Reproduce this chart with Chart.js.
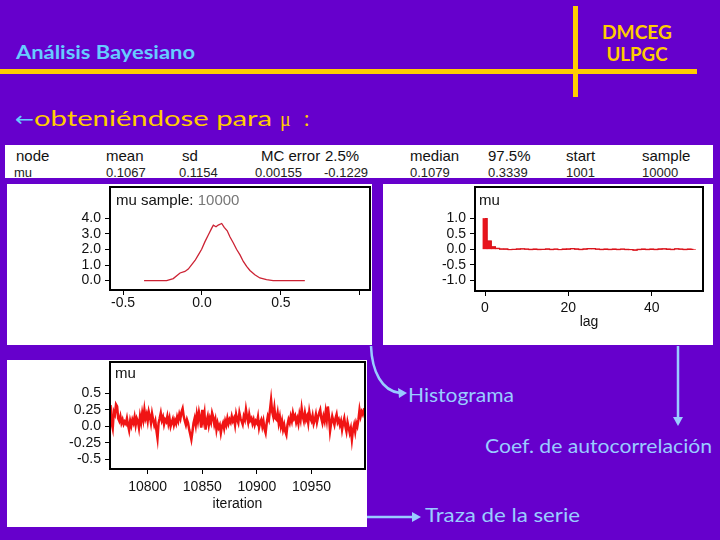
<!DOCTYPE html>
<html><head><meta charset="utf-8">
<script src="https://cdn.jsdelivr.net/npm/chart.js@4.4.1/dist/chart.umd.min.js"></script>
<style>
html,body{margin:0;padding:0;}
body{width:720px;height:540px;background:#6600cc;position:relative;overflow:hidden;}
svg#deco{position:absolute;left:0;top:0;}
canvas{position:absolute;background:#fff;}
</style></head><body>
<svg id="deco" width="720" height="540" xmlns="http://www.w3.org/2000/svg"></svg>
<canvas id="dens" width="365" height="161" style="left:7px;top:184px"></canvas>
<canvas id="acf" width="330" height="161" style="left:383px;top:184px"></canvas>
<canvas id="trace" width="360" height="167" style="left:7px;top:360px"></canvas>
<script>
// ---------- DATA ----------
const tableHeaders = ["node","mean","sd","MC error","2.5%","median","97.5%","start","sample"];
const tableValues  = ["mu","0.1067","0.1154","0.00155","-0.1229","0.1079","0.3339","1001","10000"];

// kernel density of mu (x, density)
const densityX = [-0.367,-0.224,-0.182,-0.139,-0.108,-0.087,-0.065,-0.044,-0.023,-0.002,0.019,0.040,0.061,0.072,0.089,0.103,0.125,0.141,0.160,0.177,0.198,0.219,0.241,0.262,0.283,0.304,0.335,0.367,0.409,0.451,0.652];
const densityY = [0.0,0.0,0.13,0.49,0.59,0.74,1.02,1.29,1.65,2.01,2.50,2.92,3.35,3.56,3.45,3.56,3.66,3.41,3.19,2.81,2.43,2.01,1.65,1.23,0.91,0.65,0.38,0.17,0.06,0.0,0.0];
const densityXTicks = [-0.5,0.0,0.5,1.0];
const densityXLabels = ["-0.5","0.0","0.5",""];
const densityYTicks = [0,1,2,3,4];
const densityYLabels = ["0.0","1.0","2.0","3.0","4.0"];

// autocorrelation by lag
const acfLags = [0,1,2,3,4,5,6,7,8,9,10,11,12,13,14,15,16,17,18,19,20,21,22,23,24,25,26,27,28,29,30,31,32,33,34,35,36,37,38,39,40,41,42,43,44,45,46,47,48,49,50];
const acfValues = [1.0,0.27,0.08,0.03,0.01,0.005,-0.005,0.0,0.004,0.015,0.003,-0.004,0.002,-0.003,0.0,0.005,-0.002,0.003,-0.005,0.002,0.006,0.02,0.004,-0.003,0.008,0.022,0.02,0.003,-0.004,0.002,-0.003,0.001,-0.004,0.003,-0.002,-0.006,-0.025,-0.004,0.002,-0.003,0.001,-0.002,0.004,0.015,0.002,-0.003,0.018,0.003,-0.002,0.001,0.0];
const acfXTicks = [0,20,40];
const acfXLabels = ["0","20","40"];
const acfYTicks = [-1,-0.5,0,0.5,1];
const acfYLabels = ["-1.0","-0.5","0.0","0.5","1.0"];

// trace of mu, iterations 10766..10999
const traceStart = 10766;
const traceValues = [
0.32,0.05,-0.03,0.22,0.18,0.33,0.30,0.12,0.08,0.15,
0.05,0.10,0.03,0.07,0.04,0.12,0.02,-0.06,0.08,0.01,
0.10,0.05,0.14,0.02,0.12,0.08,-0.02,0.15,0.06,0.20,
0.10,0.25,0.12,0.18,0.08,0.22,0.15,0.05,0.19,0.10,
0.02,0.08,-0.06,-0.18,0.05,0.12,0.20,0.09,0.14,0.03,
0.10,0.07,0.15,0.04,0.12,0.00,0.06,0.11,0.02,0.09,
0.04,0.14,0.08,0.18,0.12,0.22,0.27,0.15,0.08,0.02,
0.10,0.05,-0.05,-0.12,-0.20,-0.08,0.05,0.12,0.02,0.18,
0.08,0.21,0.12,-0.02,0.25,0.10,0.20,-0.05,0.08,0.15,
0.02,0.12,0.06,0.20,0.14,0.03,0.10,-0.05,0.05,-0.02,
0.02,-0.10,0.00,0.05,-0.03,0.08,0.02,0.12,0.04,0.10,
0.06,0.15,0.08,0.12,0.02,0.18,0.10,0.05,0.20,0.12,
0.08,0.03,0.15,0.10,0.25,0.14,0.06,0.18,0.09,0.12,
0.04,0.10,0.02,0.08,0.05,0.14,-0.02,0.06,0.10,0.00,
0.08,-0.04,-0.10,0.05,0.15,0.10,0.25,0.40,0.22,0.15,
0.28,0.12,0.10,0.20,0.05,0.14,0.00,0.08,-0.05,0.02,
-0.08,-0.13,0.02,0.10,0.05,0.15,0.08,0.20,0.12,0.16,
0.06,0.12,0.04,0.18,0.10,0.27,0.15,0.08,0.20,0.10,
0.15,0.05,0.22,0.12,0.08,0.16,0.04,0.10,0.18,0.06,
0.14,0.20,0.25,0.12,0.05,0.15,0.08,0.22,0.10,0.30,
0.15,-0.07,0.05,0.15,0.08,0.02,0.12,0.18,0.06,0.10,
0.02,0.08,-0.05,0.05,0.12,0.00,-0.08,0.06,-0.02,-0.10,
-0.03,-0.20,-0.05,0.02,-0.08,0.05,0.00,0.10,0.25,0.15,
0.22,0.18,0.25,0.24];
const traceXTicks = [10800,10850,10900,10950];
const traceXLabels = ["10800","10850","10900","10950"];
const traceYTicks = [-0.5,-0.25,0,0.25,0.5];
const traceYLabels = ["-0.5","-0.25","0.0","0.25","0.5"];

// ---------- SLIDE DECORATION (SVG) ----------
const NS = "http://www.w3.org/2000/svg";
const svg = document.getElementById('deco');
function el(tag, attrs, text){const e=document.createElementNS(NS,tag);for(const k in attrs)e.setAttribute(k,attrs[k]);if(text!==undefined)e.textContent=text;svg.appendChild(e);return e;}
const YEL="#ffcc00", BLUE="#66ccff", LBLUE="#99ccff", SLIDEFONT="Lato, 'DejaVu Sans', sans-serif";
el('rect',{x:0,y:69,width:697,height:5,fill:YEL});
el('rect',{x:573,y:6,width:5,height:91,fill:YEL});
el('text',{x:16,y:59,'font-family':SLIDEFONT,'font-size':19,'font-weight':'bold',fill:BLUE,textLength:179,lengthAdjust:'spacingAndGlyphs'},'Análisis Bayesiano');
el('text',{x:637,y:39,'font-family':SLIDEFONT,'font-size':18,'font-weight':'bold',fill:YEL,'text-anchor':'middle',textLength:70,lengthAdjust:'spacingAndGlyphs'},'DMCEG');
el('text',{x:637,y:61,'font-family':SLIDEFONT,'font-size':18,'font-weight':'bold',fill:YEL,'text-anchor':'middle',textLength:61,lengthAdjust:'spacingAndGlyphs'},'ULPGC');
el('text',{x:15,y:126,'font-family':"'DejaVu Sans', sans-serif",'font-size':20,fill:BLUE,textLength:19,lengthAdjust:'spacingAndGlyphs'},'←');
el('text',{x:34,y:126,'font-family':SLIDEFONT,'font-size':21,fill:YEL,textLength:238,lengthAdjust:'spacingAndGlyphs'},'obteniéndose para');
el('text',{x:280,y:126,'font-family':"'Liberation Serif', serif",'font-size':20,fill:YEL},'μ');
el('text',{x:304,y:126,'font-family':SLIDEFONT,'font-size':21,fill:YEL},':');
// table strip
el('clipPath',{id:'tclip'});
document.getElementById('tclip').appendChild((()=>{const r=document.createElementNS(NS,'rect');r.setAttribute('x',5);r.setAttribute('y',145);r.setAttribute('width',708);r.setAttribute('height',33);return r;})());
el('rect',{x:5,y:145,width:708,height:33,fill:'#fff'});
const colX = [16,106,182,261,325,410,488,566,642];
const valX = [14,106,179,255,324,410,488,566,642];
tableHeaders.forEach((h,i)=>el('text',{x:colX[i],y:161,'font-family':"'Liberation Sans', Arial, sans-serif",'font-size':15,fill:'#111'},h));
tableValues.forEach((v,i)=>el('text',{x:valX[i],y:177,'font-family':"'Liberation Sans', Arial, sans-serif",'font-size':13,fill:'#222','clip-path':'url(#tclip)'},v));
// annotations
el('path',{d:'M371,346 C372,372 382,391 400,393',stroke:LBLUE,'stroke-width':2.5,fill:'none'});
el('path',{d:'M407,393 L398,388 L399,398 Z',fill:LBLUE});
el('line',{x1:678,y1:346,x2:678,y2:419,stroke:LBLUE,'stroke-width':2.5});
el('path',{d:'M678,426 L673,417 L683,417 Z',fill:LBLUE});
el('line',{x1:367,y1:517,x2:414,y2:517,stroke:LBLUE,'stroke-width':2.5});
el('path',{d:'M421,517 L412,512 L412,522 Z',fill:LBLUE});
el('text',{x:408,y:402,'font-family':SLIDEFONT,'font-size':20,fill:LBLUE,textLength:106,lengthAdjust:'spacingAndGlyphs'},'Histograma');
el('text',{x:485,y:453,'font-family':SLIDEFONT,'font-size':20,fill:LBLUE,textLength:227,lengthAdjust:'spacingAndGlyphs'},'Coef. de autocorrelación');
el('text',{x:425,y:522,'font-family':SLIDEFONT,'font-size':20,fill:LBLUE,textLength:155,lengthAdjust:'spacingAndGlyphs'},'Traza de la serie');

// ---------- CHARTS ----------
const TICKFONT = {family:"'Liberation Sans', Arial, sans-serif", size:14};
const framePlugin = {id:'frame', afterDraw(chart){
  const {ctx, chartArea:a} = chart;
  ctx.save(); ctx.strokeStyle='#000'; ctx.lineWidth=2;
  ctx.strokeRect(a.left, a.top, a.right-a.left, a.bottom-a.top);
  const lab = chart.options.plugins.frame;
  if (lab && lab.parts){
    let x = a.left + lab.dx;
    ctx.font = "15px 'Liberation Sans', Arial, sans-serif"; ctx.textBaseline='alphabetic';
    lab.parts.forEach(p=>{ctx.fillStyle=p.color; ctx.fillText(p.text, x, a.top+lab.dy); x+=ctx.measureText(p.text).width;});
  }
  ctx.restore();
}};
function axis(min,max,tickVals,tickLabels,isX,size,pad,extra){
  return Object.assign({
    type:'linear', min, max, offset:false,
    border:{display:false},
    grid:{display:true, drawOnChartArea:false, drawTicks:true, tickLength:5, color:'#000', lineWidth:1, offset:false},
    afterBuildTicks: s => { s.ticks = tickVals.map(v=>({value:v})); },
    afterFit: s => { if(isX) s.height=size; else s.width=size; s.paddingTop=0; s.paddingBottom=0; s.paddingLeft=0; s.paddingRight=0; },
    ticks:{autoSkip:false, maxRotation:0, minRotation:0, color:'#111', font:TICKFONT, padding:pad, callback:(v,i)=>tickLabels[i]}
  }, extra||{});
}
const common = {responsive:false, animation:false, events:[], plugins:{legend:{display:false}, tooltip:{enabled:false}}};

new Chart(document.getElementById('dens'), {
  type:'line',
  data:{datasets:[{data:densityX.map((x,i)=>({x, y:densityY[i]})), borderColor:'#cc2233', borderWidth:1.3, pointRadius:0, tension:0, fill:false}]},
  options:Object.assign({}, common, {
    layout:{padding:{top:3,right:2,left:0,bottom:0}},
    plugins:Object.assign({}, common.plugins, {frame:{dx:6, dy:18, parts:[{text:'mu sample: ',color:'#111'},{text:'10000',color:'#777'}]}}),
    scales:{
      x: axis(-0.583,1.065,densityXTicks,densityXLabels,true,55,0),
      y: axis(-0.6,6.0,densityYTicks,densityYLabels,false,103,4)
    }
  }),
  plugins:[framePlugin]
});

const acfPoints = acfLags.map((x,i)=>({x, y:acfValues[i]}));
new Chart(document.getElementById('acf'), {
  type:'bar',
  data:{datasets:[
    {type:'line', data:acfPoints, borderColor:'#d8141c', borderWidth:1.2, pointRadius:0, stepped:'middle', fill:false},
    {type:'bar', data:acfPoints, backgroundColor:'#e8141c', borderWidth:0, barPercentage:1, categoryPercentage:1}
  ]},
  options:Object.assign({}, common, {
    layout:{padding:{top:3,right:10,left:0,bottom:0}},
    plugins:Object.assign({}, common.plugins, {frame:{dx:4, dy:18, parts:[{text:'mu',color:'#111'}]}}),
    scales:{
      x: axis(-2.4,52.3,acfXTicks,acfXLabels,true,54,4,{title:{display:true,text:'lag',color:'#111',font:{family:"'Liberation Sans', Arial, sans-serif",size:14},padding:{top:0,bottom:14.6}}}),
      y: axis(-1.35,2.02,acfYTicks,acfYLabels,false,92,4)
    }
  }),
  plugins:[framePlugin]
});

new Chart(document.getElementById('trace'), {
  type:'line',
  data:{datasets:[{data:traceValues.map((y,i)=>({x:traceStart+i, y})), borderColor:'#f01414', borderWidth:2.5, pointRadius:0, tension:0, fill:false}]},
  options:Object.assign({}, common, {
    layout:{padding:{top:2,right:2,left:0,bottom:0}},
    plugins:Object.assign({}, common.plugins, {frame:{dx:5, dy:16, parts:[{text:'mu',color:'#111'}]}}),
    scales:{
      x: axis(10765.5,10999,traceXTicks,traceXLabels,true,58,5,{title:{display:true,text:'iteration',color:'#111',font:{family:"'Liberation Sans', Arial, sans-serif",size:14},padding:{top:0,bottom:14.6}}}),
      y: axis(-0.647,0.974,traceYTicks,traceYLabels,false,103,4)
    }
  }),
  plugins:[framePlugin]
});
</script>
</body></html>
